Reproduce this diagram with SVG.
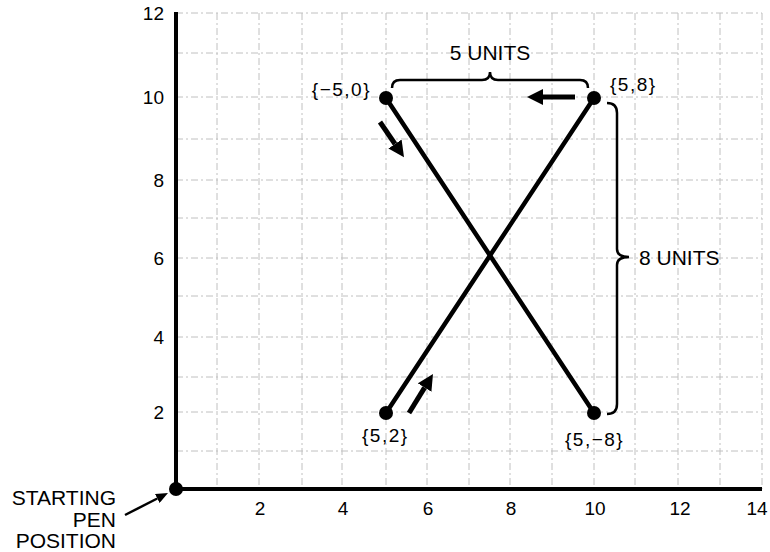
<svg xmlns="http://www.w3.org/2000/svg" width="770" height="552" viewBox="0 0 770 552">
<defs>
<style>
.grid line{stroke:#c0c0c0;stroke-width:1;stroke-dasharray:7 3 2 3}
.axis{stroke:#000;stroke-width:4;fill:none}
.path{stroke:#000;stroke-width:4.5;fill:none;stroke-linecap:round}
.brace{stroke:#000;stroke-width:2.5;fill:none}
.dir{stroke:#000;stroke-width:5;fill:none}
.lead{stroke:#000;stroke-width:2.5;fill:none}
text{font-family:"Liberation Sans",Arial,sans-serif;fill:#000}
.tick{font-size:19px}
.lbl{font-size:19px;letter-spacing:1.5px}
.big{font-size:21px}
.dot{fill:#000}
</style>
<marker id="bigArrow" viewBox="0 0 16 16" refX="0" refY="8" markerWidth="16" markerHeight="16" markerUnits="userSpaceOnUse" orient="auto">
<path d="M0,0 L16,8 L0,16 z" fill="#000"/>
</marker>
<marker id="smallArrow" viewBox="0 0 12 10" refX="0" refY="5" markerWidth="12" markerHeight="10" markerUnits="userSpaceOnUse" orient="auto">
<path d="M0,0 L12,5 L0,10 z" fill="#000"/>
</marker>
</defs>
<rect width="770" height="552" fill="#fff"/>
<g class="grid" id="grid">
<line x1="217" y1="13" x2="217" y2="489"/>
<line x1="259" y1="13" x2="259" y2="489"/>
<line x1="302" y1="13" x2="302" y2="489"/>
<line x1="342" y1="13" x2="342" y2="489"/>
<line x1="386" y1="13" x2="386" y2="489"/>
<line x1="427" y1="13" x2="427" y2="489"/>
<line x1="469" y1="13" x2="469" y2="489"/>
<line x1="510" y1="13" x2="510" y2="489"/>
<line x1="552" y1="13" x2="552" y2="489"/>
<line x1="594" y1="13" x2="594" y2="489"/>
<line x1="635" y1="13" x2="635" y2="489"/>
<line x1="678" y1="13" x2="678" y2="489"/>
<line x1="720" y1="13" x2="720" y2="489"/>
<line x1="762" y1="13" x2="762" y2="489"/>
<line x1="176" y1="13" x2="762" y2="13"/>
<line x1="176" y1="53" x2="762" y2="53"/>
<line x1="176" y1="97" x2="762" y2="97"/>
<line x1="176" y1="139" x2="762" y2="139"/>
<line x1="176" y1="180" x2="762" y2="180"/>
<line x1="176" y1="218" x2="762" y2="218"/>
<line x1="176" y1="258" x2="762" y2="258"/>
<line x1="176" y1="296" x2="762" y2="296"/>
<line x1="176" y1="337" x2="762" y2="337"/>
<line x1="176" y1="377" x2="762" y2="377"/>
<line x1="176" y1="412" x2="762" y2="412"/>
<line x1="176" y1="451" x2="762" y2="451"/>
</g>
<g id="axes">
<line class="axis" x1="176" y1="12" x2="176" y2="489"/>
<line class="axis" x1="176" y1="489" x2="762" y2="489"/>
<g class="tick" text-anchor="end">
<text x="164" y="20">12</text>
<text x="164" y="104">10</text>
<text x="164" y="187">8</text>
<text x="164" y="265">6</text>
<text x="164" y="344">4</text>
<text x="164" y="419">2</text>
</g>
<g class="tick" text-anchor="middle">
<text x="260" y="515">2</text>
<text x="343" y="515">4</text>
<text x="428" y="515">6</text>
<text x="511" y="515">8</text>
<text x="595" y="515">10</text>
<text x="680" y="515">12</text>
<text x="757" y="515">14</text>
</g>
</g>
<g id="connectors">
<line class="path" x1="386" y1="98" x2="594" y2="413"/>
<line class="path" x1="386" y1="413" x2="594" y2="98"/>
<line class="dir" x1="575" y1="97" x2="543" y2="97" marker-end="url(#bigArrow)"/>
<line class="dir" x1="380" y1="122" x2="395" y2="144" marker-end="url(#bigArrow)"/>
<line class="dir" x1="409" y1="413" x2="424.6" y2="387.6" marker-end="url(#bigArrow)"/>
<line class="lead" x1="125" y1="515" x2="157.3" y2="498.5" marker-end="url(#smallArrow)"/>
<path class="brace" d="M392,88 Q392,80 400,80 L482,80 Q490,80 490,72 Q490,80 498,80 L580,80 Q588,80 588,88"/>
<path class="brace" d="M607,103 Q617,103 617,113 L617,249 Q617,257 629,257 Q617,257 617,265 L617,404 Q617,414 607,414"/>
</g>
<g id="start">
<circle class="dot" cx="176" cy="489" r="7"/>
<text class="big" x="116" y="505" text-anchor="end">STARTING</text>
<text class="big" x="116" y="527" text-anchor="end">PEN</text>
<text class="big" x="116" y="548" text-anchor="end">POSITION</text>
</g>
<g id="nodeA">
<circle class="dot" cx="386" cy="98" r="7"/>
<text class="lbl" x="371" y="96" text-anchor="end">{−5,0}</text>
</g>
<g id="nodeB">
<circle class="dot" cx="594" cy="413" r="7"/>
<text class="lbl" x="565" y="446">{5,−8}</text>
</g>
<g id="nodeC">
<circle class="dot" cx="386" cy="413" r="7"/>
<text class="lbl" x="362" y="442">{5,2}</text>
</g>
<g id="nodeD">
<circle class="dot" cx="594" cy="98" r="7"/>
<text class="lbl" x="610" y="91">{5,8}</text>
</g>
<g id="labels">
<text class="big" x="490" y="60" text-anchor="middle">5 UNITS</text>
<text class="big" x="639" y="265">8 UNITS</text>
</g>
</svg>
